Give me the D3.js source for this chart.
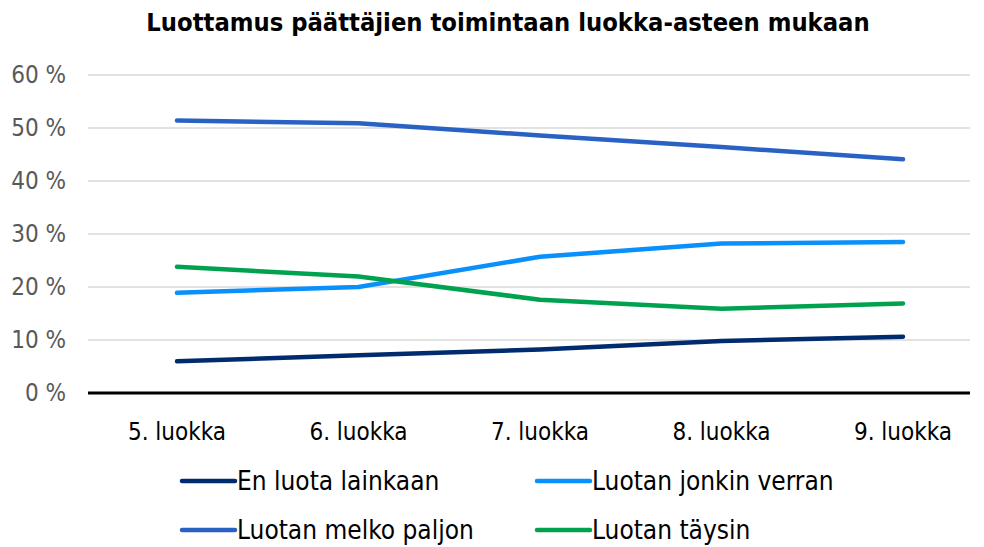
<!DOCTYPE html>
<html>
<head>
<meta charset="utf-8">
<script src="https://cdn.jsdelivr.net/npm/d3@7"></script>
<style>
	body { margin: 0; background: #fff; }
	svg text { font-family: "Liberation Sans Narrow", "DejaVu Sans Condensed", sans-serif; }
</style>
</head>
<body>
<div id="chart"></div>
<script>
// Data
const grades = ["5. luokka", "6. luokka", "7. luokka", "8. luokka", "9. luokka"];
const enLuota = [6.0, 7.1, 8.2, 9.8, 10.6];
const jonkinVerran = [18.9, 20.0, 25.7, 28.2, 28.5];
const melkoPaljon = [51.4, 50.9, 48.6, 46.4, 44.1];
const taysin = [23.8, 22.0, 17.6, 15.9, 16.9];
const yTicks = [0, 10, 20, 30, 40, 50, 60];

const seriesNames = ["En luota lainkaan", "Luotan jonkin verran", "Luotan melko paljon", "Luotan täysin"];
const seriesValues = [enLuota, jonkinVerran, melkoPaljon, taysin];
const seriesColors = ["#002b6e", "#0a90fa", "#2a62c4", "#00a24f"];

const W = 984, H = 547;
const plot = { left: 88, right: 970, top: 75, bottom: 393 };

const svg = d3.select("#chart").append("svg")
	.attr("width", W)
	.attr("height", H);

// Scales
const x = d3.scalePoint().domain(grades).range([177, 903]);
const y = d3.scaleLinear().domain([0, 60]).range([plot.bottom, plot.top]);

// Title
svg.append("text")
	.attr("x", 508)
	.attr("y", 31)
	.style("text-anchor", "middle")
	.style("font-weight", 700)
	.style("font-size", "25.3px")
	.attr("fill", "#000")
	.text("Luottamus päättäjien toimintaan luokka-asteen mukaan");

// Gridlines
svg.append("g")
	.selectAll("line")
	.data(yTicks.filter(d => d > 0))
	.enter().append("line")
	.attr("x1", plot.left)
	.attr("x2", plot.right)
	.attr("y1", d => y(d))
	.attr("y2", d => y(d))
	.attr("stroke", "#d9d9d9")
	.attr("stroke-width", 1.5);

// Y labels
svg.append("g")
	.selectAll("text")
	.data(yTicks)
	.enter().append("text")
	.attr("x", 66)
	.attr("y", d => y(d) + 8)
	.style("text-anchor", "end")
	.style("font-size", "24px")
	.attr("fill", "#595959")
	.text(d => d + " %");

// Zero axis
svg.append("line")
	.attr("x1", plot.left)
	.attr("x2", plot.right)
	.attr("y1", y(0))
	.attr("y2", y(0))
	.attr("stroke", "#000")
	.attr("stroke-width", 3);

// X labels
svg.append("g")
	.selectAll("text")
	.data(grades)
	.enter().append("text")
	.attr("x", d => x(d))
	.attr("y", 440)
	.style("text-anchor", "middle")
	.style("font-size", "24px")
	.attr("fill", "#000")
	.text(d => d);

// Lines
const valueline = d3.line()
	.x((d, i) => x(grades[i]))
	.y(d => y(d));

svg.append("g")
	.selectAll("path")
	.data(seriesValues)
	.enter().append("path")
	.attr("d", d => valueline(d))
	.attr("fill", "none")
	.attr("stroke", (d, i) => seriesColors[i])
	.attr("stroke-width", 4.5)
	.attr("stroke-linecap", "round")
	.attr("stroke-linejoin", "round");

// Legend
const legendPos = [[180, 481], [535, 481], [180, 530], [535, 530]];
const legend = svg.append("g")
	.selectAll("g")
	.data(seriesNames)
	.enter().append("g")
	.attr("transform", (d, i) => "translate(" + legendPos[i][0] + "," + legendPos[i][1] + ")");

legend.append("line")
	.attr("x1", 2)
	.attr("x2", 55)
	.attr("stroke", (d, i) => seriesColors[i])
	.attr("stroke-width", 4.5)
	.attr("stroke-linecap", "round");

legend.append("text")
	.attr("x", 57)
	.attr("y", 9)
	.style("font-size", "26px")
	.attr("fill", "#000")
	.text(d => d);
</script>
</body>
</html>
